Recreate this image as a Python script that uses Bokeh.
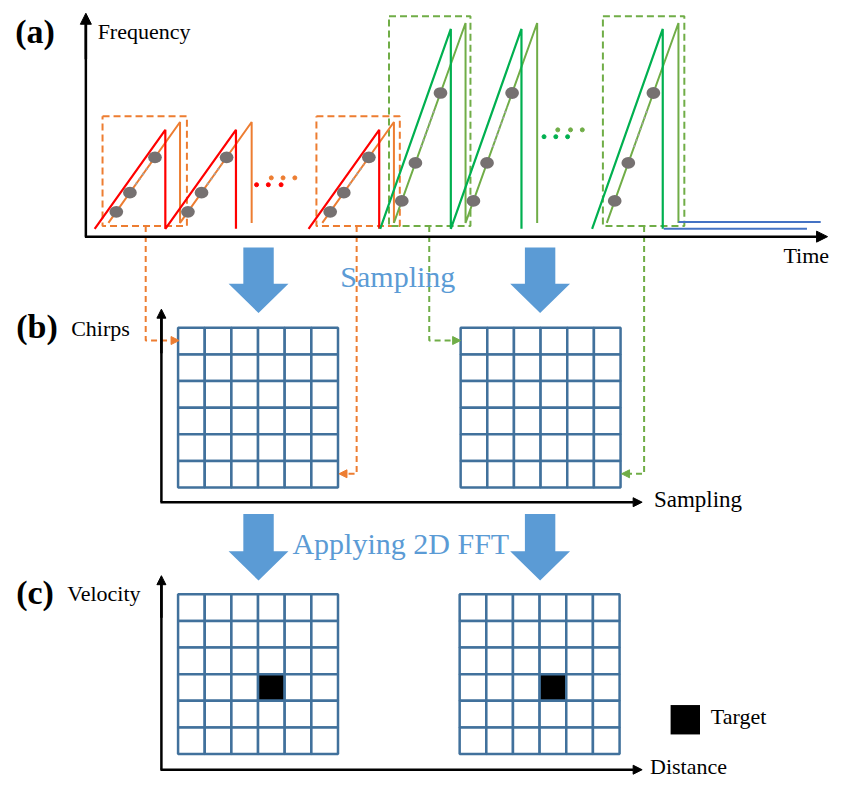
import numpy as np
from bokeh.plotting import figure
from bokeh.models import Range1d, Arrow, NormalHead
from bokeh.core.properties import value
from bokeh.embed import file_html
from bokeh.resources import INLINE

# ---------------- data (diagram geometry, in picture pixels) ----------------
red_groups = [[96, 168], [314]]          # chirp start times (x) of the red sweeps
orange_groups = [[110, 183], [328]]
dgreen_groups = [[387, 459], [603]]
lgreen_groups = [[401, 474], [618]]
orange_dot_chirps = [110, 183, 328]      # chirps carrying the sample points
lgreen_dot_chirps = [401, 474, 618]
sample_fracs = [0.11, 0.30, 0.65]        # sample positions along a chirp
orange_boxes = [(104, 118, 190, 230), (322, 118, 407, 230)]
green_boxes = [(396, 16, 479, 230), (614, 16, 697, 230)]
grid_n = 6
grids_b = [(181, 334), (469, 334)]
grids_c = [(181, 606), (468, 606)]
target_cell = (3, 3)
grid_size = 163

RED, ORANGE, DGREEN, LGREEN = "#FF0000", "#ED7D31", "#00B050", "#70AD47"
GRAY, BLUE_LINE, ARROW_BLUE, GRID_BLUE = "#767171", "#4472C4", "#5B9BD5", "#41719C"
SERIF = value("Liberation Serif")

p = figure(width=831, height=780, x_range=Range1d(0, 847), y_range=Range1d(796, 0),
           output_backend="svg", toolbar_location=None, x_axis_type=None, y_axis_type=None,
           min_border=0, background_fill_color="white")
p.grid.visible = False
p.outline_line_color = None


def saw(starts, w, lo, hi):
    xs, ys = [starts[0]], [lo]
    for s in starts:
        xs += [s + w, s + w]
        ys += [hi, lo]
    return xs, ys


# dashed boxes
for (x0, y0, x1, y1) in orange_boxes:
    p.line([x0, x1, x1, x0, x0], [y0, y0, y1, y1, y0], line_color=ORANGE, line_width=2, line_dash="7 4")
for (x0, y0, x1, y1) in green_boxes:
    p.line([x0, x1, x1, x0, x0], [y0, y0, y1, y1, y0], line_color=LGREEN, line_width=2, line_dash="7 4")

# chirps
for g in orange_groups:
    xs, ys = saw(g, 73, 227, 124)
    p.line(xs, ys, line_color=ORANGE, line_width=2)
for g in red_groups:
    xs, ys = saw(g, 72, 233, 132)
    p.line(xs, ys, line_color=RED, line_width=2.2)
for g in lgreen_groups:
    xs, ys = saw(g, 73, 227, 23)
    p.line(xs, ys, line_color=LGREEN, line_width=2)
for g in dgreen_groups:
    xs, ys = saw(g, 72, 233, 29)
    p.line(xs, ys, line_color=DGREEN, line_width=2.2)

# blue tails
p.line([676, 822], [233, 233], line_color=BLUE_LINE, line_width=2)
p.line([691, 836], [226, 226], line_color=BLUE_LINE, line_width=2)

# sample dots
def dots(starts, w, lo, hi):
    dx, dy = [], []
    for s in starts:
        for f in sample_fracs:
            dx.append(s + f * w)
            dy.append(lo - f * (lo - hi))
        xs = [s + 0.38 * w, s + 0.58 * w]
        ys = [lo - 0.38 * (lo - hi), lo - 0.58 * (lo - hi)]
        p.line(xs, ys, line_color="#A5A5A5", line_width=2, line_dash="2 4")
    p.ellipse(dx, dy, width=14, height=12, fill_color=GRAY, line_color=None)

dots(orange_dot_chirps, 73, 227, 124)
dots(lgreen_dot_chirps, 73, 227, 23)

# continuation dots
p.scatter([261, 273, 286], [188, 188, 188], size=4, color=RED)
p.scatter([276, 288, 300], [181, 181, 181], size=4, color=ORANGE)
p.scatter([554, 566, 578], [139, 139, 139], size=4, color=DGREEN)
p.scatter([568, 581, 593], [132, 132, 132], size=4, color=LGREEN)

# connectors
p.line([148, 148, 176], [230, 347, 347], line_color=ORANGE, line_width=2, line_dash="6 4")
p.line([363, 363, 351], [230, 483, 483], line_color=ORANGE, line_width=2, line_dash="6 4")
p.line([437, 437, 462], [230, 347, 347], line_color=LGREEN, line_width=2, line_dash="6 4")
p.line([656, 656, 639], [230, 483, 483], line_color=LGREEN, line_width=2, line_dash="6 4")
for (xs, xe, y, c) in [(170, 182, 347, ORANGE), (356, 345, 483, ORANGE),
                       (458, 469, 347, LGREEN), (644, 633, 483, LGREEN)]:
    p.add_layout(Arrow(end=NormalHead(size=8, fill_color=c, line_color=c),
                       x_start=xs, y_start=y, x_end=xe, y_end=y, line_alpha=0))

# axes
def axis_arrow(xs, ys, xe, ye, size=11):
    p.add_layout(Arrow(end=NormalHead(size=size, fill_color="black", line_color="black"),
                       x_start=xs, y_start=ys, x_end=xe, y_end=ye, line_width=2.5, line_color="black"))

p.line([87, 87], [241, 22], line_color="black", line_width=2.5)
axis_arrow(87, 60, 87, 13)
axis_arrow(86, 241, 843, 241)
p.line([164, 164], [512, 320], line_color="black", line_width=2.5)
axis_arrow(164, 360, 164, 315, 9)
axis_arrow(163, 512, 654, 512, 9)
p.line([164, 164], [785, 595], line_color="black", line_width=2.5)
axis_arrow(164, 630, 164, 587, 9)
axis_arrow(163, 785, 654, 785, 9)

# big blue arrows
for cx, top, head, tip in [(263, 252, 289, 319), (550, 252, 289, 319),
                           (263, 524, 562, 592), (550, 524, 562, 592)]:
    p.patch([cx - 15.5, cx + 15.5, cx + 15.5, cx + 30.5, cx, cx - 30.5, cx - 15.5],
            [top, top, head, head, tip, head, head], fill_color=ARROW_BLUE, line_color=None)

# grids
def grid(ox, oy, target=None):
    c = grid_size / grid_n
    l, r, t, b, fills = [], [], [], [], []
    for i in range(grid_n):
        for j in range(grid_n):
            l.append(ox + j * c); r.append(ox + (j + 1) * c)
            t.append(oy + i * c); b.append(oy + (i + 1) * c)
            fills.append("black" if target is not None and (i, j) == target else "white")
    p.quad(left=l, right=r, top=t, bottom=b, fill_color=fills, line_color=GRID_BLUE, line_width=2.5)

for ox, oy in grids_b:
    grid(ox, oy)
for ox, oy in grids_c:
    grid(ox, oy, target_cell)

# legend
p.quad(left=[683], right=[713], top=[719], bottom=[749], fill_color="black", line_color=None)

# texts (y = visual baseline; renderer draws ~0.38em lower, so compensate)
def txt(x, y, s, size, color="black", align="left", style="normal"):
    p.text([x], [y - 0.38 * size], text=[s], text_font=SERIF, text_font_size=f"{size}px",
           text_color=color, text_align=align, text_baseline="alphabetic", text_font_style=style)

txt(15, 45, "(a)", 34, style="bold")
txt(16, 346, "(b)", 34, style="bold")
txt(16, 617, "(c)", 34, style="bold")
txt(99, 40, "Frequency", 22)
txt(798, 269, "Time", 22)
txt(405, 293, "Sampling", 30, ARROW_BLUE, "center")
txt(72, 343, "Chirps", 22)
txt(666, 518, "Sampling", 23)
txt(408, 566, "Applying 2D FFT", 30, ARROW_BLUE, "center")
txt(68, 614, "Velocity", 22)
txt(724, 739, "Target", 22)
txt(662, 790, "Distance", 22)

open("out.html", "w").write(file_html(p, INLINE))
